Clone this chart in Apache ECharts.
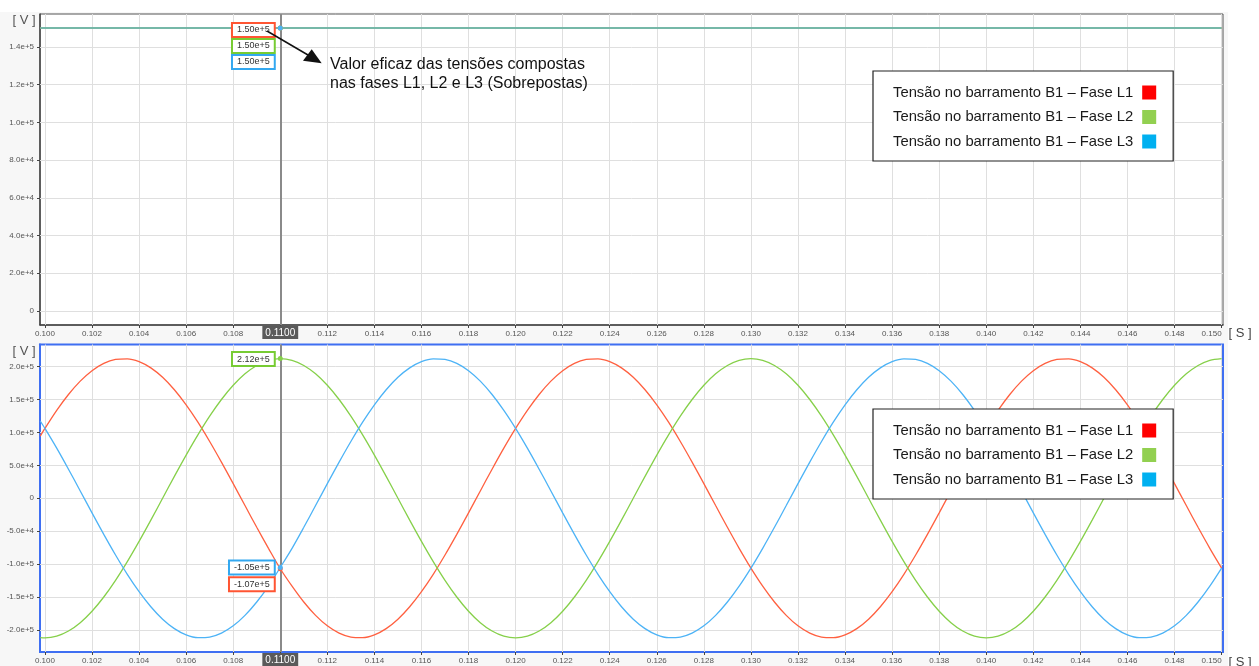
<!DOCTYPE html>
<html>
<head>
<meta charset="utf-8">
<script src="https://cdn.jsdelivr.net/npm/echarts@6/dist/echarts.min.js"></script>
<style>
html,body{margin:0;padding:0;background:#fff;}
#c{width:1259px;height:666px;}
</style>
</head>
<body>
<div id="c"></div>
<script>
// ---- data ----
const seriesNames = ['Tensão no barramento B1 – Fase L1', 'Tensão no barramento B1 – Fase L2', 'Tensão no barramento B1 – Fase L3'];
const xTicks = [0.100,0.102,0.104,0.106,0.108,0.110,0.112,0.114,0.116,0.118,0.120,0.122,0.124,0.126,0.128,0.130,0.132,0.134,0.136,0.138,0.140,0.142,0.144,0.146,0.148,0.150];
const topYTicks = [0,20000,40000,60000,80000,100000,120000,140000];
const bottomYTicks = [-200000,-150000,-100000,-50000,0,50000,100000,150000,200000];
const cursorX = 0.110;

// RMS (top panel)
const rmsTimes = [0.0998, 0.150];
const rmsL1 = [150000, 150000];
const rmsL2 = [150000, 150000];
const rmsL3 = [150000, 150000];
const topCursorVals = [150000, 150000, 150000];

// instantaneous (bottom panel)
const times = [0.0998,
 0.1000,0.1005,0.1010,0.1015,0.1020,0.1025,0.1030,0.1035,0.1040,0.1045,0.1050,0.1055,0.1060,0.1065,0.1070,0.1075,0.1080,0.1085,0.1090,0.1095,
 0.1100,0.1105,0.1110,0.1115,0.1120,0.1125,0.1130,0.1135,0.1140,0.1145,0.1150,0.1155,0.1160,0.1165,0.1170,0.1175,0.1180,0.1185,0.1190,0.1195,
 0.1200,0.1205,0.1210,0.1215,0.1220,0.1225,0.1230,0.1235,0.1240,0.1245,0.1250,0.1255,0.1260,0.1265,0.1270,0.1275,0.1280,0.1285,0.1290,0.1295,
 0.1300,0.1305,0.1310,0.1315,0.1320,0.1325,0.1330,0.1335,0.1340,0.1345,0.1350,0.1355,0.1360,0.1365,0.1370,0.1375,0.1380,0.1385,0.1390,0.1395,
 0.1400,0.1405,0.1410,0.1415,0.1420,0.1425,0.1430,0.1435,0.1440,0.1445,0.1450,0.1455,0.1460,0.1465,0.1470,0.1475,0.1480,0.1485,0.1490,0.1495,
 0.1500];
const vL1 = [94300,
 106000,133400,157500,177800,193700,204800,210800,211700,207400,197900,183600,164700,141800,115500,86200,54900,22200,-11100,-44100,-76000,
 -107000,-133400,-157500,-177800,-193700,-204800,-210800,-211700,-207400,-197900,-183600,-164700,-141800,-115500,-86200,-54900,-22200,11100,44100,76000,
 106000,133400,157500,177800,193700,204800,210800,211700,207400,197900,183600,164700,141800,115500,86200,54900,22200,-11100,-44100,-76000,
 -106000,-133400,-157500,-177800,-193700,-204800,-210800,-211700,-207400,-197900,-183600,-164700,-141800,-115500,-86200,-54900,-22200,11100,44100,76000,
 106000,133400,157500,177800,193700,204800,210800,211700,207400,197900,183600,164700,141800,115500,86200,54900,22200,-11100,-44100,-76000,
 -106000];
const vL2 = [-211600,
 -212000,-209400,-201600,-188900,-171500,-149900,-124600,-96200,-65500,-33200,0,33200,65500,96200,124600,149900,171500,188900,201600,209400,
 212000,209400,201600,188900,171500,149900,124600,96200,65500,33200,0,-33200,-65500,-96200,-124600,-149900,-171500,-188900,-201600,-209400,
 -212000,-209400,-201600,-188900,-171500,-149900,-124600,-96200,-65500,-33200,0,33200,65500,96200,124600,149900,171500,188900,201600,209400,
 212000,209400,201600,188900,171500,149900,124600,96200,65500,33200,0,-33200,-65500,-96200,-124600,-149900,-171500,-188900,-201600,-209400,
 -212000,-209400,-201600,-188900,-171500,-149900,-124600,-96200,-65500,-33200,0,33200,65500,96200,124600,149900,171500,188900,201600,209400,
 212000];
const vL3 = [117300,
 106000,76000,44100,11100,-22200,-54900,-86200,-115500,-141800,-164700,-183600,-197900,-207400,-211700,-210800,-204800,-193700,-177800,-157500,-133400,
 -105000,-76000,-44100,-11100,22200,54900,86200,115500,141800,164700,183600,197900,207400,211700,210800,204800,193700,177800,157500,133400,
 106000,76000,44100,11100,-22200,-54900,-86200,-115500,-141800,-164700,-183600,-197900,-207400,-211700,-210800,-204800,-193700,-177800,-157500,-133400,
 -106000,-76000,-44100,-11100,22200,54900,86200,115500,141800,164700,183600,197900,207400,211700,210800,204800,193700,177800,157500,133400,
 106000,76000,44100,11100,-22200,-54900,-86200,-115500,-141800,-164700,-183600,-197900,-207400,-211700,-210800,-204800,-193700,-177800,-157500,-133400,
 -106000];
const bottomCursorVals = [-107000, 212000, -105000];

// ---- styles ----
const lineColors = ['#ff6040', '#86d04a', '#4db3f6'];
const boxColors = ['#ff5533', '#77cc33', '#33a8f0'];
const legendColors = ['#ff0000', '#92d050', '#00b0f0'];
const FONT = '"Liberation Sans", Arial, sans-serif';

const chart = echarts.init(document.getElementById('c'), null, {renderer: 'canvas'});

function xAxisCfg(gridIndex, lineColor) {
  return {
    type: 'value', gridIndex: gridIndex, min: 0.09979, max: 0.15006,
    axisLine: {show: true, onZero: false, lineStyle: {color: lineColor, width: gridIndex === 1 ? 2 : 1.5}},
    axisTick: {show: true, length: 3, customValues: xTicks, lineStyle: {color: '#444'}},
    splitLine: {show: false},
    axisLabel: {
      customValues: xTicks, margin: 1, fontSize: 8, color: '#555', fontFamily: FONT,
      alignMaxLabel: 'right',
      formatter: function (v) {
        if (Math.abs(v - cursorX) < 1e-9) return '{c|' + cursorX.toFixed(4) + '}';
        return '{n|' + v.toFixed(3) + '}';
      },
      rich: {
        n: {fontSize: 8, color: '#555', padding: [4, 0, 0, 0], fontFamily: FONT},
        c: {fontSize: 10, color: '#fff', backgroundColor: '#5a5a5a', padding: [2, 3, 1, 3], fontFamily: FONT}
      }
    }
  };
}
function yAxisCfg(gridIndex, min, max, ticks, lineColor) {
  return {
    type: 'value', gridIndex: gridIndex, min: min, max: max,
    axisLine: {show: true, lineStyle: {color: lineColor, width: gridIndex === 1 ? 2 : 1.5}},
    axisTick: {show: true, length: 3, customValues: ticks, lineStyle: {color: '#444'}},
    splitLine: {show: false},
    axisLabel: {
      customValues: ticks, margin: 6, fontSize: 8, color: '#555', fontFamily: FONT,
      formatter: function (v) { return v === 0 ? '0' : v.toExponential(1); }
    }
  };
}

// grid lines drawn at the tick values through the axes' scales
function gridSeries(idx, yTicks) {
  return {
    type: 'line', xAxisIndex: idx, yAxisIndex: idx, data: [], z: 1, silent: true,
    markLine: {
      z: 1, precision: 8, silent: true, symbol: 'none', animation: false, label: {show: false},
      lineStyle: {color: '#dfdfdf', width: 1, type: 'solid'},
      data: xTicks.map(v => ({xAxis: v})).concat(yTicks.map(v => ({yAxis: v})))
    }
  };
}

function cursorPoint(value, i, dy) {
  return {
    symbol: 'circle', symbolSize: 5, silent: true,
    itemStyle: {color: lineColors[i]},
    label: {
      show: true, position: 'left', distance: 4, offset: [0, dy],
      formatter: value.toExponential(2),
      fontSize: 9, color: '#333', fontFamily: FONT,
      backgroundColor: '#fff', borderColor: boxColors[i], borderWidth: 2,
      padding: [2, 4, 1, 4]
    },
    data: [{coord: [cursorX, value]}]
  };
}
const cursorLine = {
  z: 2, precision: 8, silent: true, symbol: 'none', animation: false,
  lineStyle: {color: '#8a8a8a', width: 2, type: 'solid'},
  label: {show: false},
  data: [{xAxis: cursorX}]
};

const series = [gridSeries(0, topYTicks), gridSeries(1, bottomYTicks)];
const rms = [rmsL1, rmsL2, rmsL3];
const topDy = [2, 18, 34];
for (let i = 0; i < 3; i++) {
  const s = {
    name: seriesNames[i], type: 'line', xAxisIndex: 0, yAxisIndex: 0, z: 3,
    showSymbol: false, animation: false,
    lineStyle: {color: lineColors[i], width: 1.5, opacity: i === 2 ? 0.7 : 1},
    itemStyle: {color: lineColors[i]},
    data: rmsTimes.map((t, k) => [t, rms[i][k]]),
    markPoint: cursorPoint(topCursorVals[i], i, topDy[i])
  };
  if (i === 0) s.markLine = cursorLine;
  series.push(s);
}
const inst = [vL1, vL2, vL3];
const botDy = [15.5, 0.5, 0];
for (let i = 0; i < 3; i++) {
  const s = {
    name: seriesNames[i], type: 'line', xAxisIndex: 1, yAxisIndex: 1, z: 3,
    showSymbol: false, animation: false, smooth: 0.3,
    lineStyle: {color: lineColors[i], width: 1.3},
    itemStyle: {color: lineColors[i]},
    data: times.map((t, k) => [t, inst[i][k]]),
    markPoint: cursorPoint(bottomCursorVals[i], i, botDy[i])
  };
  if (i === 0) s.markLine = cursorLine;
  series.push(s);
}

function legendCfg(top) {
  return {
    left: 873, top: top, orient: 'vertical', align: 'right', selectedMode: false, z: 10,
    icon: 'rect', itemWidth: 14, itemHeight: 14, itemGap: 9.5,
    backgroundColor: '#fff', borderColor: '#222', borderWidth: 1.2,
    padding: [14, 17, 12, 20],
    textStyle: {fontSize: 14.8, color: '#1a1a1a', fontFamily: FONT, lineHeight: 14, padding: [0, 4, 0, 0]},
    data: seriesNames.map((n, i) => ({name: n, itemStyle: {color: legendColors[i], borderWidth: 0}}))
  };
}

const option = {
  backgroundColor: '#f7f7f7',
  animation: false,
  textStyle: {fontFamily: FONT},
  grid: [
    {left: 40, right: 36, top: 14, height: 311, show: true, backgroundColor: '#fff', borderColor: '#555', borderWidth: 1},
    {left: 40, right: 36, top: 344.5, height: 310, show: true, backgroundColor: '#fff', borderColor: '#3f6ff2', borderWidth: 2}
  ],
  xAxis: [xAxisCfg(0, '#444'), xAxisCfg(1, '#3f6ff2')],
  yAxis: [yAxisCfg(0, -7400, 157400, topYTicks, '#444'), yAxisCfg(1, -233400, 233400, bottomYTicks, '#3f6ff2')],
  legend: [legendCfg(71), legendCfg(409)],
  graphic: [
    {type: 'rect', z: -10, silent: true, shape: {x: 0, y: 0, width: 1259, height: 12}, style: {fill: '#fff'}},
    {type: 'rect', z: -10, silent: true, shape: {x: 1228, y: 0, width: 31, height: 666}, style: {fill: '#fff'}},
    {type: 'text', x: 24, y: 20, silent: true, style: {text: '[ V ]', font: '13px ' + FONT, fill: '#555', align: 'center', verticalAlign: 'middle'}},
    {type: 'text', x: 24, y: 351, silent: true, style: {text: '[ V ]', font: '13px ' + FONT, fill: '#555', align: 'center', verticalAlign: 'middle'}},
    {type: 'text', x: 1240, y: 333.5, silent: true, style: {text: '[ S ]', font: '13px ' + FONT, fill: '#444', align: 'center', verticalAlign: 'middle'}},
    {type: 'text', x: 1240, y: 662.5, silent: true, style: {text: '[ S ]', font: '13px ' + FONT, fill: '#444', align: 'center', verticalAlign: 'middle'}},
    {type: 'line', z: 100, silent: true, shape: {x1: 267, y1: 31, x2: 308, y2: 55}, style: {stroke: '#111', lineWidth: 1.5}},
    {type: 'polygon', z: 100, silent: true, shape: {points: [[321.7, 63.3], [311.7, 49.3], [303, 60.7]]}, style: {fill: '#111'}},
    {type: 'text', z: 100, x: 330, y: 55.5, silent: true, style: {text: 'Valor eficaz das tensões compostas\nnas fases L1, L2 e L3 (Sobrepostas)', font: '16px ' + FONT, fill: '#111', lineHeight: 19, verticalAlign: 'top'}}
  ],
  series: series
};
chart.setOption(option);
</script>
</body>
</html>
